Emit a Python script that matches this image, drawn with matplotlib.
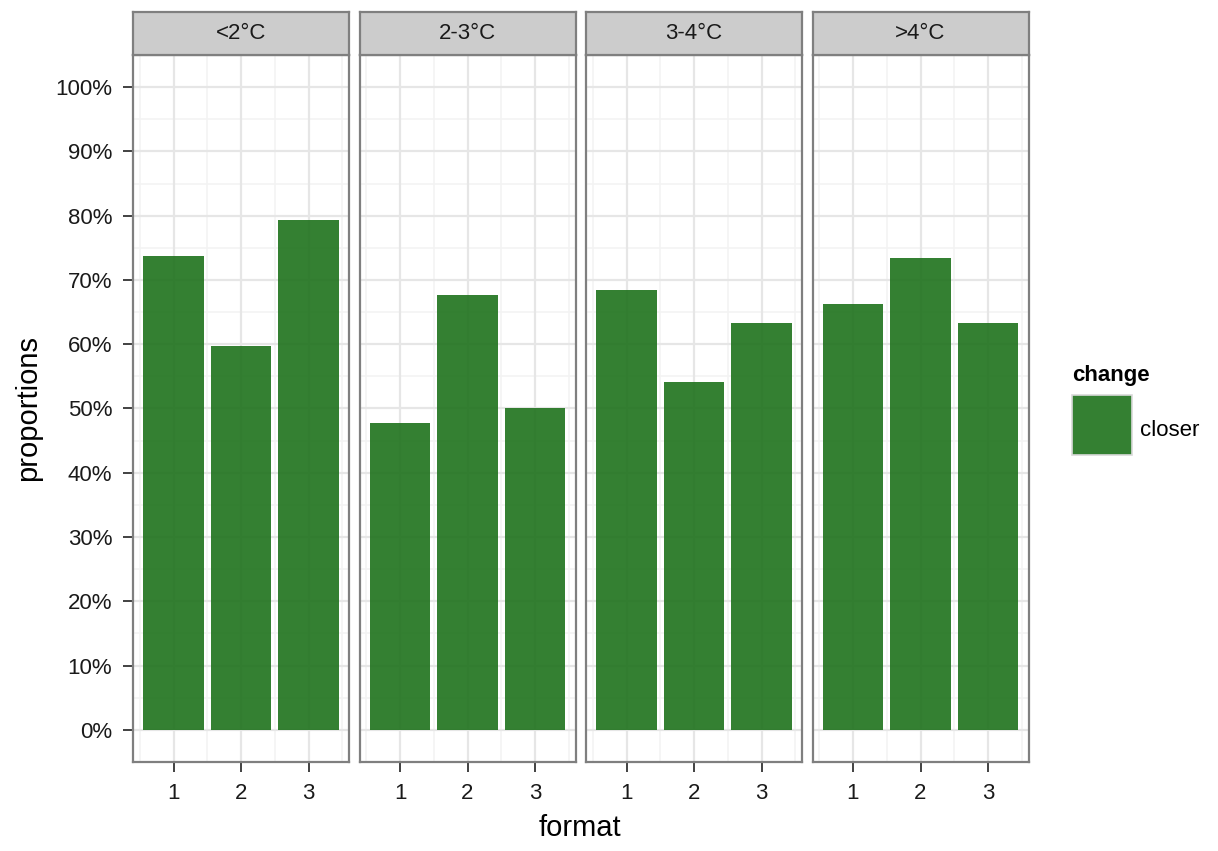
import numpy as np
import matplotlib
matplotlib.use("Agg")
import matplotlib.pyplot as plt
from matplotlib.patches import Rectangle
from matplotlib.ticker import FixedLocator, PercentFormatter

plt.rcParams['font.family'] = ['Liberation Sans', 'DejaVu Sans']

# facets, formats and share of "closer" answers
temps   = ['<2°C', '2-3°C', '3-4°C', '>4°C']
formats = ['1', '2', '3']
closer  = [
    [0.738, 0.597, 0.794],
    [0.477, 0.677, 0.501],
    [0.685, 0.541, 0.633],
    [0.662, 0.734, 0.633],
]
change_levels = ['closer']

W, H = 1218, 851
fig = plt.figure(figsize=(W/100, H/100), dpi=100, facecolor='white')

def px_box(x0, y0, x1, y1):
    # pixel box (top-left origin) -> figure fraction rect
    return [x0/W, 1 - y1/H, (x1 - x0)/W, (y1 - y0)/H]

bar_col   = '#1e721c'
border    = '#7f7f7f'
major_col = '#e6e6e6'
minor_col = '#f3f3f3'

panel_x = [133, 359.5, 586, 812.5]
panel_w = 216
panel_top, panel_bot = 55, 762
strip_top = 12

x = np.arange(1, len(formats) + 1)

for i, (name, vals) in enumerate(zip(temps, closer)):
    x0 = panel_x[i]
    ax = fig.add_axes(px_box(x0, panel_top, x0 + panel_w, panel_bot))
    ax.set_xlim(0.4, 3.6)
    ax.set_ylim(-0.05, 1.05)

    # grid, drawn by hand so minor lines sit between discrete ticks
    for yv in np.arange(0.05, 1.0, 0.1):
        ax.axhline(yv, color=minor_col, lw=1.2, zorder=0)
    for xv in [0.5, 1.5, 2.5, 3.5]:
        ax.axvline(xv, color=minor_col, lw=1.2, zorder=0)
    for yv in np.arange(0, 1.01, 0.1):
        ax.axhline(yv, color=major_col, lw=1.6, zorder=0)
    for xv in x:
        ax.axvline(xv, color=major_col, lw=1.6, zorder=0)

    ax.bar(x, vals, width=0.9, color=bar_col, alpha=0.9, lw=0, zorder=2)

    ax.xaxis.set_major_locator(FixedLocator(x))
    ax.set_xticklabels(formats)
    ax.tick_params(axis='x', direction='out', length=7, width=1.3,
                   color='#333333', labelsize=16, labelcolor='#1a1a1a', pad=8)
    if i == 0:
        ax.yaxis.set_major_locator(FixedLocator(np.arange(0, 1.01, 0.1)))
        ax.yaxis.set_major_formatter(PercentFormatter(1.0, decimals=0))
        ax.tick_params(axis='y', direction='out', length=7, width=1.3,
                       color='#333333', labelsize=16, labelcolor='#1a1a1a', pad=8)
    else:
        ax.set_yticks([])
    for sp in ax.spines.values():
        sp.set_color(border)
        sp.set_linewidth(1.6)
        sp.set_zorder(3)

    # facet strip
    sax = fig.add_axes(px_box(x0, strip_top, x0 + panel_w, panel_top))
    sax.set_facecolor('#cccccc')
    sax.set_xticks([])
    sax.set_yticks([])
    for sp in sax.spines.values():
        sp.set_color(border)
        sp.set_linewidth(1.6)
    sax.text(0.5, 0.5, name, ha='center', va='center', fontsize=16,
             color='#1a1a1a', transform=sax.transAxes)

fig.text(580/W, 1 - 828/H, 'format', ha='center', va='center', fontsize=21)
fig.text(28/W, 1 - 408/H, 'proportions', ha='center', va='center',
         rotation=90, fontsize=21)

# legend
fig.text(1072/W, 1 - 375/H, 'change', ha='left', va='center',
         fontsize=16, fontweight='bold')
for j, lab in enumerate(change_levels):
    ky = 395 + j * 60
    fig.add_artist(Rectangle((1072/W, 1 - (ky + 60)/H), 60/W, 60/H,
                             transform=fig.transFigure, facecolor=bar_col,
                             alpha=0.9, edgecolor='none'))
    fig.add_artist(Rectangle((1072/W, 1 - (ky + 60)/H), 60/W, 60/H,
                             transform=fig.transFigure, facecolor='none',
                             edgecolor='#d9d9d9', lw=1.2))
    fig.text(1140/W, 1 - (ky + 36)/H, lab, ha='left', va='center',
             fontsize=16)

fig.savefig('out.png', dpi=100, facecolor='white')
